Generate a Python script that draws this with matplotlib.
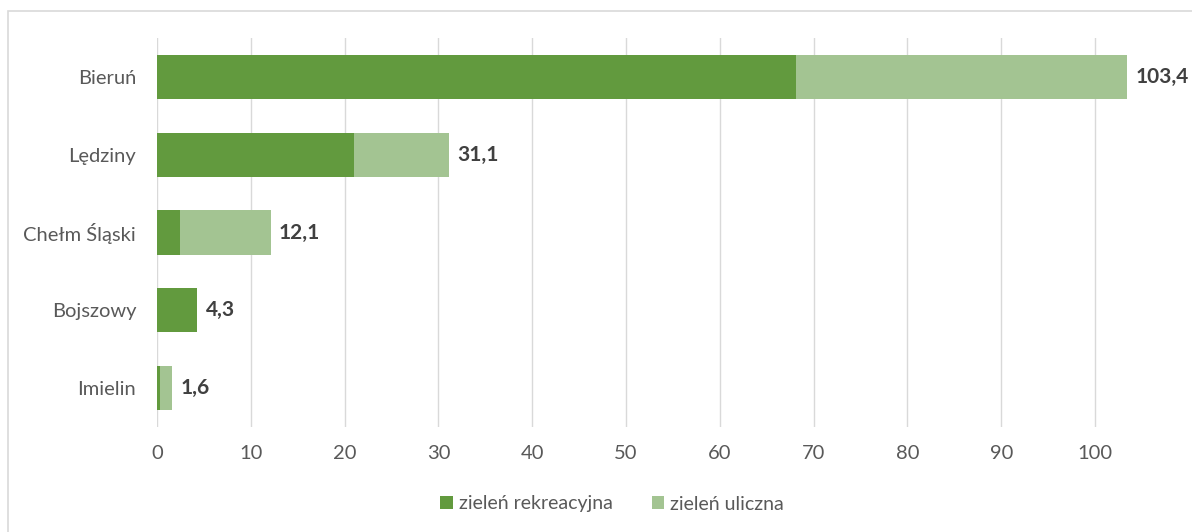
import matplotlib.pyplot as plt
from matplotlib.patches import Rectangle

plt.rcParams['font.family'] = ['Lato', 'DejaVu Sans']

gminy = ['Bieruń', 'Lędziny', 'Chełm Śląski', 'Bojszowy', 'Imielin']
rekreacyjna = [68.1, 21.0, 2.5, 4.3, 0.3]
uliczna = [35.3, 10.1, 9.6, 0.0, 1.3]
sumy = ['103,4', '31,1', '12,1', '4,3', '1,6']
ticks = [0, 10, 20, 30, 40, 50, 60, 70, 80, 90, 100]

c_dark = '#629A3E'
c_light = '#A3C492'

fig = plt.figure(figsize=(11.92, 5.32), dpi=100)
ax = fig.add_axes([157/1192, 1 - 427/532, 970/1192, 389/532])

y = list(range(len(gminy)))
ax.barh(y, rekreacyjna, height=0.57, color=c_dark, label='zieleń rekreacyjna', zorder=3)
ax.barh(y, uliczna, height=0.57, left=rekreacyjna, color=c_light, label='zieleń uliczna', zorder=3)

for i in y:
    total = rekreacyjna[i] + uliczna[i]
    ax.annotate(sumy[i], (total, i), xytext=(6, 0), textcoords='offset points',
                va='center', ha='left', fontsize=15, fontweight='bold', color='#404040')

ax.set_xlim(0, 103.4)
ax.set_ylim(len(gminy) - 0.5, -0.5)
ax.set_yticks(y)
ax.set_yticklabels(gminy)
ax.set_xticks(ticks)
ax.tick_params(axis='both', length=0, labelsize=14.5, colors='#595959')
ax.tick_params(axis='x', pad=13)
ax.tick_params(axis='y', pad=15)
ax.grid(axis='x', color='#D9D9D9', linewidth=1, zorder=0)
for s in ax.spines.values():
    s.set_visible(False)

leg = fig.legend(loc='center', bbox_to_anchor=(612/1192, 1 - 504/532), ncol=2, frameon=False,
                 fontsize=14, handlelength=0.65, handleheight=0.65, handletextpad=0.3,
                 columnspacing=2.0)
for t in leg.get_texts():
    t.set_color('#595959')

fig.add_artist(Rectangle((8/1192, -0.1), 1.2, 1 - 11/532 + 0.1, transform=fig.transFigure,
                         fill=False, edgecolor='#D9D9D9', linewidth=1.2))

fig.savefig('out.png', dpi=100)
